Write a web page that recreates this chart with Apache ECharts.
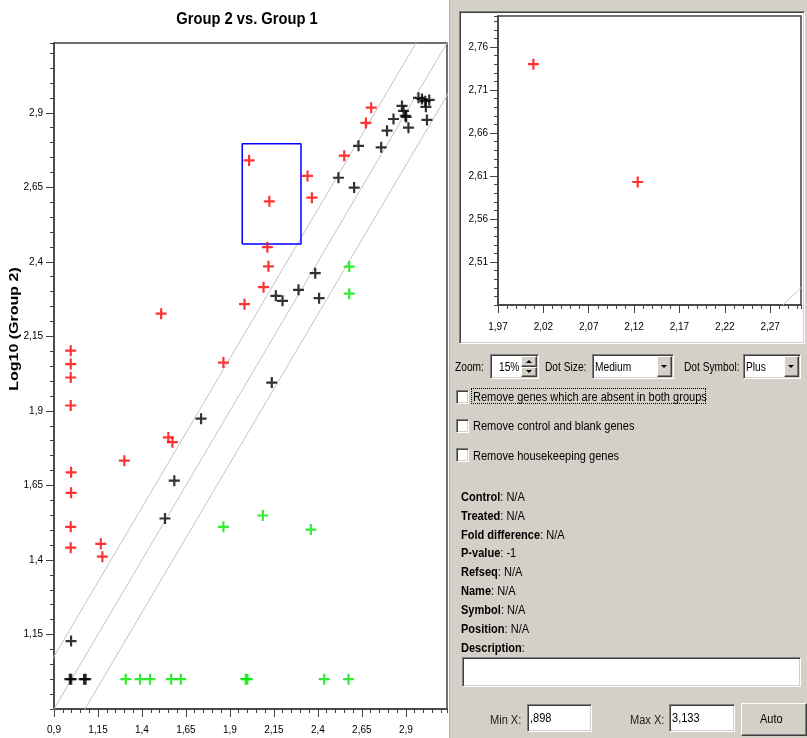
<!DOCTYPE html>
<html>
<head>
<meta charset="utf-8">
<script src="https://cdn.jsdelivr.net/npm/echarts@6/dist/echarts.min.js"></script>
<style>
html,body{margin:0;padding:0;width:807px;height:738px;overflow:hidden;background:#fff;font-family:"Liberation Sans",Arial,sans-serif;}
#leftbg{position:absolute;left:0;top:0;width:449px;height:738px;background:#fff;}
#rightbg{position:absolute;left:449px;top:0;width:358px;height:738px;background:#d4d0c8;border-left:1px solid #b8b4ac;box-sizing:border-box;}
#chart{position:absolute;left:0;top:0;width:807px;height:738px;}
.sunken{position:absolute;background:#fff;box-sizing:border-box;border-top:1px solid #808080;border-left:1px solid #808080;border-bottom:1px solid #fff;border-right:1px solid #fff;box-shadow:inset 1px 1px 0 #404040,inset -1px -1px 0 #d4d0c8;}
.raised{position:absolute;background:#d4d0c8;box-sizing:border-box;border-top:1px solid #fff;border-left:1px solid #fff;border-bottom:1px solid #404040;border-right:1px solid #404040;box-shadow:inset -1px -1px 0 #808080;}
.t{position:absolute;font-size:12px;line-height:14px;color:#000;white-space:nowrap;}
.n{display:inline-block;transform:scaleX(0.92);transform-origin:0 50%;}
.m{display:inline-block;transform:scaleX(0.85);transform-origin:0 50%;}
.tri-d{position:absolute;width:0;height:0;border-left:3px solid transparent;border-right:3px solid transparent;border-top:3px solid #000;}
.tri-u{position:absolute;width:0;height:0;border-left:3px solid transparent;border-right:3px solid transparent;border-bottom:3px solid #000;}
b{font-weight:bold;}
</style>
</head>
<body>
<div id="leftbg"></div>
<div id="rightbg"></div>
<div class="sunken" style="left:459px;top:11px;width:346px;height:333px;"></div>
<div id="chart"></div>

<!-- controls row -->
<div class="t" style="left:455px;top:360px;"><span class="m">Zoom:</span></div>
<div class="sunken" style="left:490px;top:354px;width:49px;height:25px;"></div>
<div class="t" style="left:499px;top:360px;"><span class="m">15%</span></div>
<div class="raised" style="left:521px;top:356px;width:16px;height:11px;"></div>
<div class="tri-u" style="left:526px;top:360px;"></div>
<div class="raised" style="left:521px;top:367px;width:16px;height:10px;"></div>
<div class="tri-d" style="left:526px;top:370px;"></div>

<div class="t" style="left:545px;top:360px;"><span class="m">Dot Size:</span></div>
<div class="sunken" style="left:592px;top:354px;width:82px;height:25px;"></div>
<div class="t" style="left:595px;top:360px;"><span class="m">Medium</span></div>
<div class="raised" style="left:657px;top:356px;width:15px;height:21px;"></div>
<div class="tri-d" style="left:661px;top:365px;"></div>

<div class="t" style="left:684px;top:360px;"><span class="m">Dot Symbol:</span></div>
<div class="sunken" style="left:743px;top:354px;width:58px;height:25px;"></div>
<div class="t" style="left:746px;top:360px;"><span class="m">Plus</span></div>
<div class="raised" style="left:784px;top:356px;width:15px;height:21px;"></div>
<div class="tri-d" style="left:788px;top:365px;"></div>

<!-- checkboxes -->
<div class="sunken" style="left:456px;top:390px;width:13px;height:14px;"></div>
<div style="position:absolute;left:471px;top:388px;width:235px;height:16px;border:1px dotted #000;box-sizing:border-box;"></div>
<div class="t" style="left:473px;top:390px;"><span class="n">Remove genes which are absent in both groups</span></div>
<div class="sunken" style="left:456px;top:419px;width:13px;height:14px;"></div>
<div class="t" style="left:473px;top:419px;"><span class="n">Remove control and blank genes</span></div>
<div class="sunken" style="left:456px;top:448px;width:13px;height:14px;"></div>
<div class="t" style="left:473px;top:449px;"><span class="n">Remove housekeeping genes</span></div>

<!-- info -->
<div class="t" style="left:461px;top:490px;"><span class="n"><b>Control</b>: N/A</span></div>
<div class="t" style="left:461px;top:509px;"><span class="n"><b>Treated</b>: N/A</span></div>
<div class="t" style="left:461px;top:528px;"><span class="n"><b>Fold difference</b>: N/A</span></div>
<div class="t" style="left:461px;top:546px;"><span class="n"><b>P-value</b>: -1</span></div>
<div class="t" style="left:461px;top:565px;"><span class="n"><b>Refseq</b>: N/A</span></div>
<div class="t" style="left:461px;top:584px;"><span class="n"><b>Name</b>: N/A</span></div>
<div class="t" style="left:461px;top:603px;"><span class="n"><b>Symbol</b>: N/A</span></div>
<div class="t" style="left:461px;top:622px;"><span class="n"><b>Position</b>: N/A</span></div>
<div class="t" style="left:461px;top:641px;"><span class="n"><b>Description</b>:</span></div>
<div class="sunken" style="left:462px;top:657px;width:339px;height:30px;"></div>

<!-- min / max -->
<div class="t" style="left:490px;top:713px;color:#222;"><span class="n">Min X:</span></div>
<div class="sunken" style="left:527px;top:704px;width:65px;height:28px;"></div>
<div class="t" style="left:530px;top:711px;"><span class="n">,898</span></div>
<div class="t" style="left:630px;top:713px;color:#222;"><span class="n">Max X:</span></div>
<div class="sunken" style="left:669px;top:704px;width:66px;height:28px;"></div>
<div class="t" style="left:672px;top:711px;"><span class="n">3,133</span></div>
<div class="raised" style="left:741px;top:703px;width:66px;height:33px;"></div>
<div class="t" style="left:760px;top:712px;"><span class="n">Auto</span></div>

<script>
// ---- data ----
const redPts = [
  [2.703, 2.917], [2.673, 2.866], [2.550, 2.756], [2.341, 2.688], [2.366, 2.615],
  [2.009, 2.740], [2.124, 2.603], [2.113, 2.449], [2.119, 2.385], [2.091, 2.315],
  [1.983, 2.258], [1.509, 2.226], [1.863, 2.062], [0.995, 2.102], [0.995, 2.057],
  [0.995, 2.012], [0.995, 1.918], [1.550, 1.811], [1.573, 1.795], [1.300, 1.733],
  [0.997, 1.694], [0.997, 1.625], [0.995, 1.511], [0.995, 1.441], [1.166, 1.454],
  [1.175, 1.411]
];
const blackPts = [
  [2.972, 2.950], [2.992, 2.946], [3.010, 2.939], [3.033, 2.943], [3.014, 2.920],
  [3.020, 2.876], [2.878, 2.923], [2.887, 2.906], [2.897, 2.890], [2.902, 2.886],
  [2.915, 2.850], [2.830, 2.879], [2.793, 2.840], [2.760, 2.784], [2.631, 2.789],
  [2.517, 2.682], [2.606, 2.649], [2.385, 2.362], [2.290, 2.306], [2.161, 2.286],
  [2.199, 2.269], [2.407, 2.278], [2.138, 1.995], [1.736, 1.874], [1.584, 1.666],
  [1.531, 1.539], [0.997, 1.128], [0.990, 1.000], [0.998, 1.000], [1.071, 1.000],
  [1.080, 1.000]
];
const greenPts = [
  [2.578, 2.384], [2.578, 2.293], [1.863, 1.511], [2.087, 1.549], [2.360, 1.502],
  [1.308, 1.000], [1.389, 1.000], [1.446, 1.000], [1.566, 1.000], [1.621, 1.000],
  [1.990, 1.000], [1.999, 1.000], [2.436, 1.000], [2.574, 1.000]
];
const mainXTicks = [0.9, 1.15, 1.4, 1.65, 1.9, 2.15, 2.4, 2.65, 2.9];
const mainYTicks = [1.15, 1.4, 1.65, 1.9, 2.15, 2.4, 2.65, 2.9];
const zoomXTicks = [1.97, 2.02, 2.07, 2.12, 2.17, 2.22, 2.27];
const zoomYTicks = [2.51, 2.56, 2.61, 2.66, 2.71, 2.76];
const mainRange = [0.9, 3.134];
const zoomXRange = [1.97, 2.304];
const zoomYRange = [2.46, 2.796];
const foldOffsets = [-0.176, 0, 0.176];   // log10(1.5) fold lines
const titleText = 'Group 2 vs. Group 1';
const yName = 'Log10 (Group 2)';

// ---- chart ----
const fmt = v => String(Math.round(v * 100) / 100).replace('.', ',');
const tickFont = { fontFamily: '"Liberation Sans Narrow","Liberation Sans",Arial,sans-serif', fontSize: 10, color: '#000' };
const axisColor = '#404040';

function labelAxis(dim, grid, range, ticks, margin) {
  return {
    type: 'value', gridIndex: grid, min: range[0], max: range[1],
    position: dim === 'x' ? 'bottom' : 'left',
    axisLine: { show: true, onZero: false, lineStyle: { color: axisColor, width: 1.5 } },
    axisTick: { show: true, customValues: ticks, length: 8, lineStyle: { color: axisColor } },
    axisLabel: Object.assign({ show: true, customValues: ticks, formatter: fmt, margin: margin }, tickFont),
    splitLine: { show: false }
  };
}
function minorAxis(dim, grid, range, step) {
  return {
    type: 'value', gridIndex: grid, min: range[0], max: range[1], interval: step,
    position: dim === 'x' ? 'bottom' : 'left',
    axisLine: { show: false, onZero: false },
    axisTick: { show: true, length: 4, lineStyle: { color: axisColor } },
    axisLabel: { show: false },
    splitLine: { show: false }
  };
}
const plus = 'path://M4,0L6,0L6,4L10,4L10,6L6,6L6,10L4,10L4,6L0,6L0,4L4,4Z';
function scatter(pts, color, ai) {
  return { type: 'scatter', xAxisIndex: ai, yAxisIndex: ai, data: pts, symbol: plus, symbolSize: 11,
    itemStyle: { color: color }, clip: true, silent: true, z: 4 };
}
function foldLine(off, ai) {
  const lo = 0, hi = 4;
  return { type: 'line', xAxisIndex: ai, yAxisIndex: ai, data: [[lo, lo + off], [hi, hi + off]],
    symbol: 'none', showSymbol: false, lineStyle: { color: '#c4c4c4', width: 1 }, clip: true, silent: true, z: 2 };
}
const bx = zoomXRange, by = zoomYRange;
const boxSeries = { type: 'line', xAxisIndex: 0, yAxisIndex: 0,
  data: [[bx[0], by[0]], [bx[1], by[0]], [bx[1], by[1]], [bx[0], by[1]], [bx[0], by[0]]],
  symbol: 'none', showSymbol: false, lineStyle: { color: '#0000ff', width: 1.5 }, clip: true, silent: true, z: 3 };

const chart = echarts.init(document.getElementById('chart'), null, { renderer: 'canvas' });
chart.setOption({
  animation: false,
  backgroundColor: 'transparent',
  grid: [
    { left: 54, top: 43, width: 393, height: 666, show: true, borderColor: axisColor, borderWidth: 1.5, backgroundColor: 'transparent', outerBoundsMode: 'none', containLabel: false },
    { left: 498, top: 16, width: 303, height: 289, show: true, borderColor: axisColor, borderWidth: 1.5, backgroundColor: 'transparent', outerBoundsMode: 'none', containLabel: false }
  ],
  xAxis: [
    labelAxis('x', 0, mainRange, mainXTicks, 16),
    minorAxis('x', 0, mainRange, 0.05),
    labelAxis('x', 1, zoomXRange, zoomXTicks, 17),
    minorAxis('x', 1, zoomXRange, 0.01)
  ],
  yAxis: [
    labelAxis('y', 0, mainRange, mainYTicks, 11),
    minorAxis('y', 0, mainRange, 0.05),
    labelAxis('y', 1, zoomYRange, zoomYTicks, 10),
    minorAxis('y', 1, zoomYRange, 0.01)
  ],
  graphic: [
    { type: 'text', x: 247, y: 20, scaleX: 0.92, style: { text: titleText, font: 'bold 16px "Liberation Sans", Arial, sans-serif', fill: '#000', align: 'center', verticalAlign: 'middle' } },
    { type: 'text', x: 14, y: 329, rotation: Math.PI / 2, scaleY: 0.8, style: { text: yName, font: 'bold 16px "Liberation Sans", Arial, sans-serif', fill: '#000', align: 'center', verticalAlign: 'middle' } }
  ],
  series: [].concat(
    foldOffsets.map(o => foldLine(o, 0)),
    foldOffsets.map(o => foldLine(o, 2)),
    [boxSeries],
    [scatter(blackPts, '#000000', 0), scatter(redPts, '#ff0000', 0), scatter(greenPts, '#00e600', 0)],
    [scatter(blackPts, '#000000', 2), scatter(redPts, '#ff0000', 2), scatter(greenPts, '#00e600', 2)]
  )
});
</script>
</body>
</html>
